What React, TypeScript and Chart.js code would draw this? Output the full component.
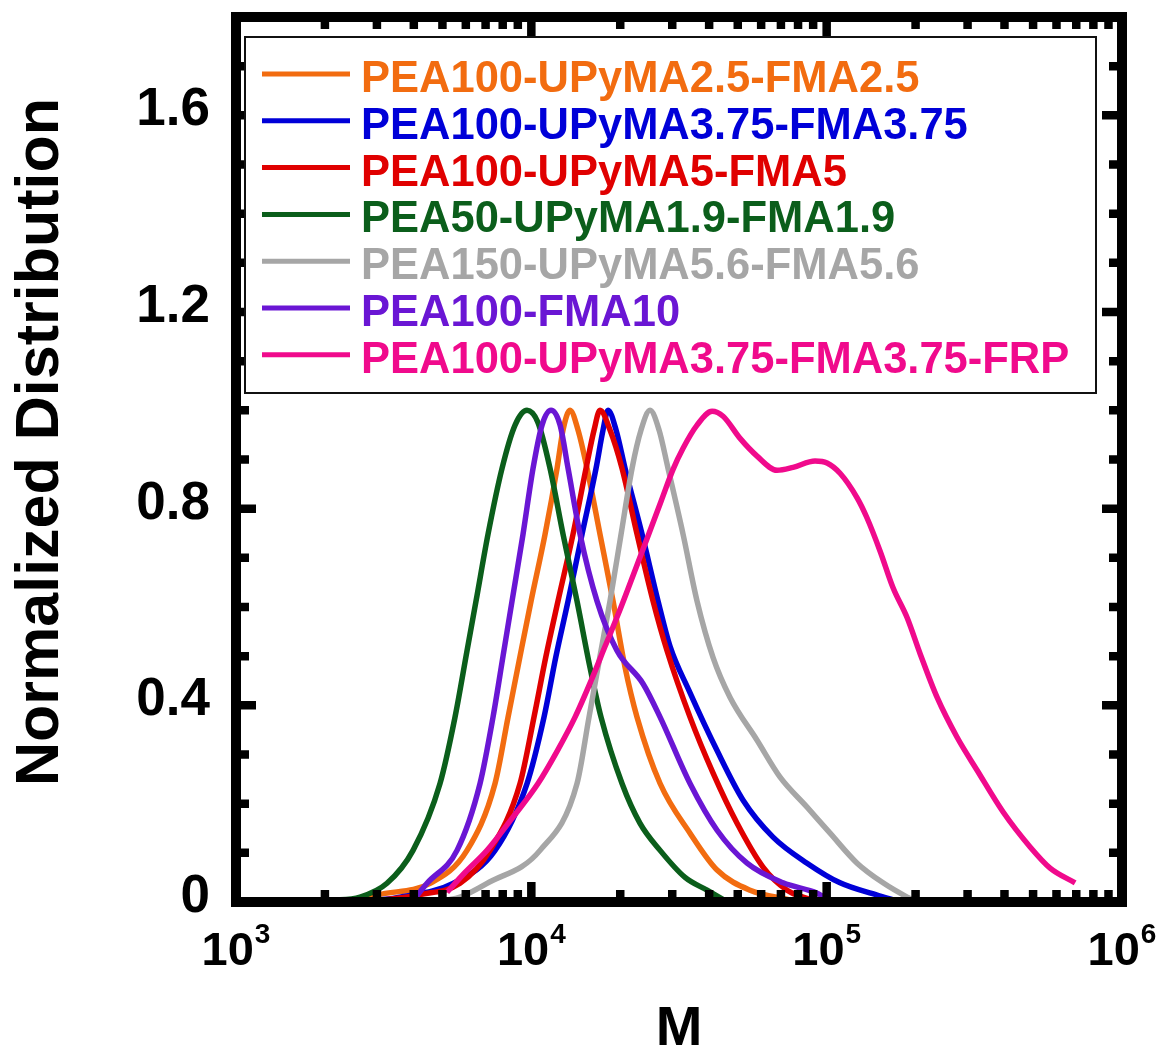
import React, { useEffect, useRef } from 'react';
import { Chart, registerables } from 'chart.js';

Chart.register(...registerables);

const FONT = '"Liberation Sans", Arial, Helvetica, sans-serif';

const SERIES_LABELS = [
  'PEA100-UPyMA2.5-FMA2.5',
  'PEA100-UPyMA3.75-FMA3.75',
  'PEA100-UPyMA5-FMA5',
  'PEA50-UPyMA1.9-FMA1.9',
  'PEA150-UPyMA5.6-FMA5.6',
  'PEA100-FMA10',
  'PEA100-UPyMA3.75-FMA3.75-FRP',
];
const SERIES_COLORS = ['#F26C10', '#0000D8', '#E00000', '#0B5E1B', '#A6A6A6', '#6A16D4', '#F00A8C'];

// PEA100-UPyMA2.5-FMA2.5
const M_ORANGE = [2630, 3002, 4539, 6057, 7535, 8341, 9157, 9977, 11130, 12220, 12805, 13520, 14390, 15440, 17080, 18910, 20770, 22800, 27290, 34460, 42550, 55040, 75170];
const Y_ORANGE = [0.003, 0.014, 0.038, 0.105, 0.241, 0.376, 0.5, 0.612, 0.748, 0.882, 0.96, 1.0, 0.96, 0.882, 0.748, 0.612, 0.477, 0.376, 0.241, 0.14, 0.065, 0.024, 0.004];

// PEA100-UPyMA3.75-FMA3.75
const M_BLUE = [2956, 3593, 5430, 7535, 9670, 11040, 12120, 13315, 14850, 16560, 17490, 18190, 19360, 20770, 23710, 26860, 29490, 34200, 42550, 52120, 65830, 85820, 111000, 148200, 170400];
const Y_BLUE = [0.003, 0.01, 0.038, 0.105, 0.241, 0.376, 0.5, 0.612, 0.748, 0.882, 0.96, 1.0, 0.96, 0.882, 0.748, 0.612, 0.52, 0.43, 0.308, 0.207, 0.132, 0.079, 0.039, 0.014, 0.003];

// PEA100-UPyMA5-FMA5
const M_RED = [3073, 4199, 5736, 7247, 9157, 10210, 11210, 12310, 13840, 15320, 16310, 17080, 18470, 20280, 22800, 25830, 28810, 34460, 41250, 49730, 60880, 73430, 87860];
const Y_RED = [0.003, 0.015, 0.038, 0.105, 0.241, 0.376, 0.5, 0.612, 0.748, 0.882, 0.96, 1.0, 0.96, 0.882, 0.748, 0.612, 0.511, 0.376, 0.262, 0.16, 0.071, 0.024, 0.005];

// PEA50-UPyMA1.9-FMA1.9
const M_GREEN = [2080, 2630, 3245, 3976, 4907, 5516, 6057, 6497, 7134, 7958, 8808, 9670, 10535, 11570, 12805, 14280, 15800, 17220, 20280, 23340, 27290, 33150, 39360, 45290];
const Y_GREEN = [0.003, 0.01, 0.038, 0.105, 0.241, 0.376, 0.511, 0.612, 0.748, 0.882, 0.97, 1.0, 0.975, 0.882, 0.748, 0.612, 0.477, 0.376, 0.241, 0.16, 0.105, 0.05, 0.024, 0.003];

// PEA150-UPyMA5.6-FMA5.6
const M_GRAY = [5103, 5736, 7079, 10702, 14280, 15680, 17080, 18470, 20130, 21930, 23520, 25230, 27070, 29030, 32640, 36400, 41250, 47090, 58120, 69550, 85820, 102700, 126800, 155200, 187300, 199300];
const Y_GRAY = [0.003, 0.01, 0.038, 0.105, 0.241, 0.376, 0.5, 0.612, 0.748, 0.882, 0.96, 1.0, 0.96, 0.882, 0.748, 0.612, 0.497, 0.416, 0.329, 0.254, 0.193, 0.14, 0.079, 0.039, 0.01, 0.002];

// PEA100-FMA10
const M_PURPLE = [3976, 4435, 5603, 6704, 7418, 8020, 8603, 9373, 10135, 10870, 11660, 12510, 13315, 14620, 16690, 19510, 23890, 27290, 34460, 42550, 53770, 71190, 92800, 102700];
const Y_PURPLE = [0.003, 0.038, 0.105, 0.241, 0.376, 0.5, 0.612, 0.748, 0.882, 0.97, 1.0, 0.97, 0.882, 0.748, 0.612, 0.511, 0.444, 0.376, 0.241, 0.146, 0.079, 0.039, 0.018, 0.003];

// PEA100-UPyMA3.75-FMA3.75-FRP
const M_PINK = [5182, 5963, 7079, 8603, 10535, 12310, 14060, 15930, 17770, 20130, 22620, 25040, 27500, 30190, 32640, 36400, 40930, 44590, 50910, 58120, 67920, 76940, 91350, 100300, 111000, 126800, 137000, 151600, 167800, 187300, 207200, 236600, 276400, 323100, 395800, 488500, 570900, 693800];
const Y_PINK = [0.02, 0.06, 0.105, 0.17, 0.241, 0.31, 0.376, 0.45, 0.52, 0.6, 0.68, 0.75, 0.815, 0.88, 0.923, 0.97, 0.998, 0.988, 0.943, 0.907, 0.878, 0.884, 0.897, 0.893, 0.872, 0.822, 0.781, 0.714, 0.639, 0.578, 0.505, 0.416, 0.335, 0.268, 0.183, 0.112, 0.069, 0.039];

const SERIES_M = [M_ORANGE, M_BLUE, M_RED, M_GREEN, M_GRAY, M_PURPLE, M_PINK];
const SERIES_Y = [Y_ORANGE, Y_BLUE, Y_RED, Y_GREEN, Y_GRAY, Y_PURPLE, Y_PINK];

const X_MIN = 1000;
const X_MAX = 1000000;
const X_DECADES = [3, 4, 5, 6];
const Y_MIN = 0;
const Y_MAX = 1.8;
const Y_MINOR_STEP = 0.1;
const Y_LABEL_VALUES = [0, 0.4, 0.8, 1.2, 1.6];
const Y_TICK_LABELS = ['0', '0.4', '0.8', '1.2', '1.6'];
const X_TITLE = 'M';
const Y_TITLE = 'Normalized Distribution';

const decorPlugin = {
  id: 'decor',
  afterDraw(chart: any) {
    const ctx = chart.ctx as CanvasRenderingContext2D;
    const { left, right, top, bottom } = chart.chartArea;
    const xs = chart.scales.x;
    const ys = chart.scales.y;
    ctx.save();

    // ticks (inward, mirrored)
    ctx.strokeStyle = '#000';
    ctx.lineCap = 'butt';
    ctx.lineWidth = 8.5;
    for (let d = 3; d <= 5; d++) {
      for (let m = 1; m <= 9; m++) {
        const v = m * Math.pow(10, d);
        if (v <= X_MIN) continue;
        const px = xs.getPixelForValue(v);
        const len = m === 1 ? 20 : 12;
        ctx.beginPath();
        ctx.moveTo(px, bottom);
        ctx.lineTo(px, bottom - len);
        ctx.moveTo(px, top);
        ctx.lineTo(px, top + len);
        ctx.stroke();
      }
    }
    const nY = Math.round((Y_MAX - Y_MIN) / Y_MINOR_STEP);
    for (let i = 1; i < nY; i++) {
      const v = Y_MIN + i * Y_MINOR_STEP;
      const py = ys.getPixelForValue(v);
      const len = i % 4 === 0 ? 20 : 13;
      ctx.beginPath();
      ctx.moveTo(left, py);
      ctx.lineTo(left + len, py);
      ctx.moveTo(right, py);
      ctx.lineTo(right - len, py);
      ctx.stroke();
    }

    // frame
    ctx.lineWidth = 10;
    ctx.lineJoin = 'miter';
    ctx.strokeRect(left, top, right - left, bottom - top);

    // y tick labels
    ctx.fillStyle = '#000';
    ctx.font = `bold 53px ${FONT}`;
    ctx.textAlign = 'right';
    ctx.textBaseline = 'alphabetic';
    Y_LABEL_VALUES.forEach((v, i) => {
      const py = ys.getPixelForValue(v);
      ctx.fillText(Y_TICK_LABELS[i], left - 26, py + 10);
    });

    // x tick labels 10^n
    X_DECADES.forEach((d) => {
      const px = xs.getPixelForValue(Math.pow(10, d));
      ctx.font = `bold 47px ${FONT}`;
      const w1 = ctx.measureText('10').width;
      ctx.font = `bold 28px ${FONT}`;
      const sup = String(d);
      const w2 = ctx.measureText(sup).width;
      const x0 = px - (w1 + w2 + 1) / 2;
      ctx.textAlign = 'left';
      ctx.font = `bold 47px ${FONT}`;
      ctx.fillText('10', x0, bottom + 63);
      ctx.font = `bold 28px ${FONT}`;
      ctx.fillText(sup, x0 + w1 + 1, bottom + 41);
    });

    // axis titles
    ctx.font = `bold 56px ${FONT}`;
    ctx.textAlign = 'center';
    ctx.fillText(X_TITLE, (left + right) / 2, bottom + 143);

    ctx.save();
    ctx.translate(58, 442);
    ctx.rotate(-Math.PI / 2);
    ctx.font = `bold 61px ${FONT}`;
    ctx.textAlign = 'center';
    ctx.fillText(Y_TITLE, 0, 0);
    ctx.restore();

    // legend
    const lx = left + 9;
    const ly = top + 20;
    const lw = 851;
    const lh = 356;
    ctx.fillStyle = '#fff';
    ctx.fillRect(lx, ly, lw, lh);
    ctx.strokeStyle = '#111';
    ctx.lineWidth = 2;
    ctx.strokeRect(lx, ly, lw, lh);
    ctx.font = `bold 43.5px ${FONT}`;
    ctx.textAlign = 'left';
    chart.data.datasets.forEach((ds: any, i: number) => {
      const ry = ly + 37 + i * 46.8;
      ctx.strokeStyle = ds.borderColor;
      ctx.lineWidth = 5;
      ctx.beginPath();
      ctx.moveTo(lx + 17, ry);
      ctx.lineTo(lx + 105, ry);
      ctx.stroke();
      ctx.fillStyle = ds.borderColor;
      ctx.fillText(ds.label, lx + 116, ry + 18);
    });

    ctx.restore();
  },
};

export default function App() {
  const canvasRef = useRef<HTMLCanvasElement | null>(null);

  useEffect(() => {
    if (!canvasRef.current) return;
    const datasets = SERIES_LABELS.map((label, i) => ({
      label,
      data: SERIES_M[i].map((m, j) => ({ x: m, y: SERIES_Y[i][j] })),
      borderColor: SERIES_COLORS[i],
      backgroundColor: SERIES_COLORS[i],
      borderWidth: 5.5,
      pointRadius: 0,
      showLine: true,
      fill: false,
      cubicInterpolationMode: 'monotone' as const,
      order: SERIES_LABELS.length - i,
    }));
    const chart = new Chart(canvasRef.current, {
      type: 'scatter',
      data: { datasets },
      options: {
        responsive: false,
        maintainAspectRatio: false,
        animation: false,
        devicePixelRatio: 1,
        layout: { padding: { left: 0, top: 17, right: 40, bottom: 0 } },
        plugins: { legend: { display: false }, tooltip: { enabled: false }, title: { display: false } },
        scales: {
          x: {
            type: 'logarithmic',
            min: X_MIN,
            max: X_MAX,
            grid: { display: false },
            border: { display: false },
            ticks: { display: false },
            afterFit: (s: any) => { s.height = 148; },
          },
          y: {
            type: 'linear',
            min: Y_MIN,
            max: Y_MAX,
            grid: { display: false },
            border: { display: false },
            ticks: { display: false, stepSize: Y_MINOR_STEP },
            afterFit: (s: any) => { s.width = 236; },
          },
        },
      },
      plugins: [decorPlugin],
    });
    return () => chart.destroy();
  }, []);

  return (
    <div style={{ position: 'absolute', left: 0, top: 0, width: 1162, height: 1050, background: '#fff' }}>
      <canvas ref={canvasRef} width={1162} height={1050} style={{ display: 'block' }} />
    </div>
  );
}
